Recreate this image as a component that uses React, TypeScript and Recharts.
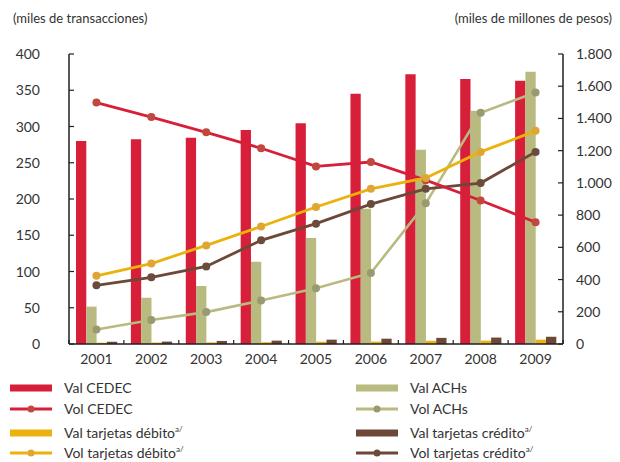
import React from 'react'
import {
  ComposedChart,
  Bar,
  Line,
  XAxis,
  YAxis,
} from 'recharts'

// Años y series (valores en miles de millones de pesos, volúmenes en miles de transacciones)
const years = ['2001', '2002', '2003', '2004', '2005', '2006', '2007', '2008', '2009']
const valCedec = [1260, 1271, 1280, 1328, 1370, 1554, 1674, 1645, 1634]
const valAch = [232, 287, 360, 511, 658, 840, 1206, 1448, 1690]
const valDebito = [8, 9, 10, 11, 14, 15, 20, 21, 27]
const valCredito = [14, 15, 19, 21, 27, 33, 38, 40, 45]
const volCedec = [333, 313, 292, 270, 245, 251, 226, 198, 168]
const volAch = [20, 33, 44, 60, 77, 98, 194, 319, 347]
const volDebito = [94, 111, 136, 162, 189, 214, 229, 265, 294]
const volCredito = [81, 92, 107, 143, 166, 193, 214, 222, 265]

const leftTicks = [0, 50, 100, 150, 200, 250, 300, 350, 400]
const rightTicks = [0, 200, 400, 600, 800, 1000, 1200, 1400, 1600, 1800]

const data = years.map((year, i) => ({
  year,
  valCedec: valCedec[i],
  valAch: valAch[i],
  valDebito: valDebito[i],
  valCredito: valCredito[i],
  volCedec: volCedec[i],
  volAch: volAch[i],
  volDebito: volDebito[i],
  volCredito: volCredito[i],
}))

const C = {
  red: '#d71f3a',
  redDot: '#c2473f',
  olive: '#b9ba7f',
  oliveDot: '#9a9a72',
  yellow: '#ebb20c',
  yellowDot: '#e0a633',
  brown: '#6d4838',
  brownDot: '#6b4c3c',
  axis: '#231f20',
  text: '#333333',
}

const FONT = 'Lato, "Open Sans", sans-serif'
const W = 620
const PLOT_LEFT = 69
const PLOT_RIGHT = 563
const HALF_BAND = (PLOT_RIGHT - PLOT_LEFT) / years.length / 2

const fmtThousands = (v: number) => String(v).replace(/\B(?=(\d{3})+(?!\d))/g, '.')

// ticks pointing into the plot area
const LeftTick = (props: any) => {
  const { x, y, payload } = props
  return (
    <g>
      <line x1={x + 29} x2={x + 34} y1={y} y2={y} stroke={C.axis} strokeWidth={1.2} />
      <text x={x} y={y} dy={5} textAnchor="end" fill={C.text} fontSize={14} fontFamily={FONT}>
        {payload.value}
      </text>
    </g>
  )
}

const RightTick = (props: any) => {
  const { x, y, payload } = props
  return (
    <g>
      <line x1={x - 13} x2={x - 18} y1={y} y2={y} stroke={C.axis} strokeWidth={1.2} />
      <text x={x} y={y} dy={5} textAnchor="start" fill={C.text} fontSize={14} fontFamily={FONT}>
        {fmtThousands(payload.value)}
      </text>
    </g>
  )
}

const BottomTick = (props: any) => {
  const { x, y, payload, index } = props
  const y0 = y - 10
  return (
    <g>
      <line x1={x - HALF_BAND} x2={x - HALF_BAND} y1={y0} y2={y0 - 4} stroke={C.axis} strokeWidth={1.2} />
      {index === years.length - 1 && (
        <line x1={x + HALF_BAND} x2={x + HALF_BAND} y1={y0} y2={y0 - 4} stroke={C.axis} strokeWidth={1.2} />
      )}
      <text x={x} y={y} dy={10} textAnchor="middle" fill={C.text} fontSize={14} fontFamily={FONT}>
        {payload.value}
      </text>
    </g>
  )
}

const LegendItem = ({ kind, color, dot, label, sup, x, y }: any) => (
  <div style={{ position: 'absolute', left: x, top: y - 8, height: 16, display: 'flex', alignItems: 'center' }}>
    <svg width={42} height={12} style={{ marginRight: 12 }}>
      {kind === 'bar' ? (
        <rect x={0} y={2.5} width={42} height={7} fill={color} />
      ) : (
        <>
          <line x1={0} x2={42} y1={6} y2={6} stroke={color} strokeWidth={3} />
          <circle cx={21} cy={6} r={3.5} fill={dot} />
        </>
      )}
    </svg>
    <span style={{ fontSize: 14, lineHeight: '16px', color: C.text, fontFamily: FONT, whiteSpace: 'nowrap' }}>
      {label}
      {sup && <sup style={{ fontSize: 8, lineHeight: 0 }}>a/</sup>}
    </span>
  </div>
)

export default function App() {
  return (
    <div style={{ position: 'absolute', left: 0, top: 0, width: W, height: 462, background: '#fff', overflow: 'hidden' }}>
      <div style={{ position: 'absolute', left: 13, top: 10, fontSize: 13, lineHeight: '16px', color: C.text, fontFamily: FONT }}>
        (miles de transacciones)
      </div>
      <div style={{ position: 'absolute', right: 8, top: 10, fontSize: 13, lineHeight: '16px', color: C.text, fontFamily: FONT }}>
        (miles de millones de pesos)
      </div>

      <ComposedChart
        width={W}
        height={370}
        data={data}
        margin={{ top: 54, right: 0, bottom: 0, left: 0 }}
        barGap={0}
        style={{ position: 'absolute', left: 0, top: 0 }}
      >
        <XAxis
          dataKey="year"
          axisLine={{ stroke: C.axis, strokeWidth: 1.5 }}
          tickLine={false}
          tickSize={0}
          tickMargin={10}
          height={26}
          tick={BottomTick}
          interval={0}
        />
        <YAxis
          yAxisId="left"
          orientation="left"
          domain={[0, 400]}
          ticks={leftTicks}
          width={PLOT_LEFT}
          axisLine={{ stroke: C.axis, strokeWidth: 1.5 }}
          tickLine={false}
          tickSize={0}
          tickMargin={29}
          tick={LeftTick}
          interval={0}
        />
        <YAxis
          yAxisId="right"
          orientation="right"
          domain={[0, 1800]}
          ticks={rightTicks}
          width={W - PLOT_RIGHT}
          axisLine={{ stroke: C.axis, strokeWidth: 1.5 }}
          tickLine={false}
          tickSize={0}
          tickMargin={13}
          tick={RightTick}
          interval={0}
        />

        <Bar yAxisId="right" dataKey="valCedec" fill={C.red} barSize={10.3} isAnimationActive={false} />
        <Bar yAxisId="right" dataKey="valAch" fill={C.olive} barSize={10.3} isAnimationActive={false} />
        <Bar yAxisId="right" dataKey="valDebito" fill={C.yellow} barSize={10.3} isAnimationActive={false} />
        <Bar yAxisId="right" dataKey="valCredito" fill={C.brown} barSize={10.3} isAnimationActive={false} />

        <Line yAxisId="left" dataKey="volAch" stroke={C.olive} strokeWidth={2.6}
          dot={{ r: 4, fill: C.oliveDot, stroke: 'none' }} isAnimationActive={false} />
        <Line yAxisId="left" dataKey="volCredito" stroke={C.brown} strokeWidth={2.8}
          dot={{ r: 4, fill: C.brownDot, stroke: 'none' }} isAnimationActive={false} />
        <Line yAxisId="left" dataKey="volCedec" stroke={C.red} strokeWidth={2.8}
          dot={{ r: 4, fill: C.redDot, stroke: 'none' }} isAnimationActive={false} />
        <Line yAxisId="left" dataKey="volDebito" stroke={C.yellow} strokeWidth={2.8}
          dot={{ r: 4, fill: C.yellowDot, stroke: 'none' }} isAnimationActive={false} />
      </ComposedChart>

      <LegendItem kind="bar" color={C.red} label="Val CEDEC" x={10} y={388} />
      <LegendItem kind="line" color={C.red} dot={C.redDot} label="Vol CEDEC" x={10} y={409} />
      <LegendItem kind="bar" color={C.yellow} label="Val tarjetas débito" sup x={10} y={433} />
      <LegendItem kind="line" color={C.yellow} dot={C.yellowDot} label="Vol tarjetas débito" sup x={10} y={453} />
      <LegendItem kind="bar" color={C.olive} label="Val ACHs" x={356} y={388} />
      <LegendItem kind="line" color={C.olive} dot={C.oliveDot} label="Vol ACHs" x={356} y={409} />
      <LegendItem kind="bar" color={C.brown} label="Val tarjetas crédito" sup x={356} y={433} />
      <LegendItem kind="line" color={C.brown} dot={C.brownDot} label="Vol tarjetas crédito" sup x={356} y={453} />
    </div>
  )
}
